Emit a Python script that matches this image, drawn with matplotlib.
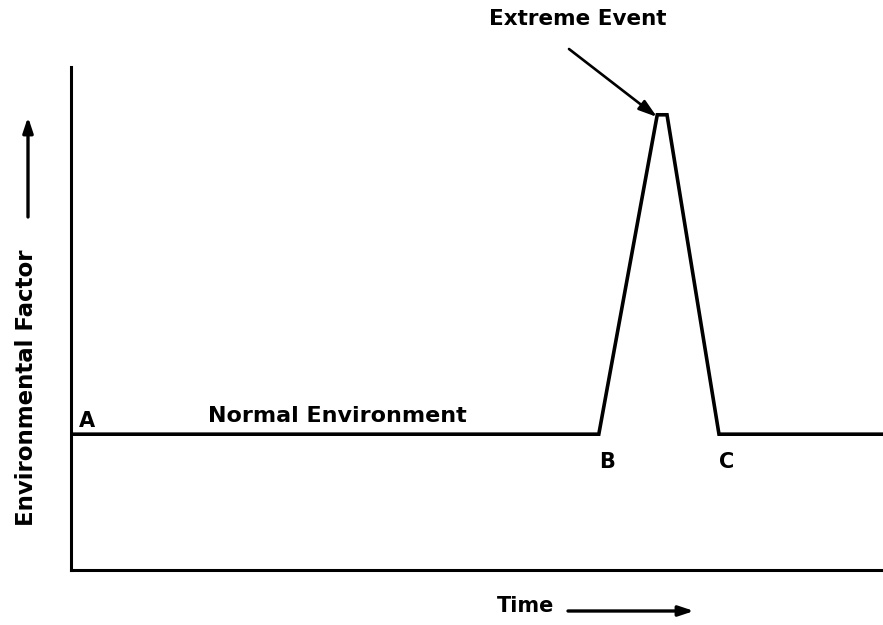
import matplotlib
matplotlib.use('Agg')
from matplotlib import pyplot as plt

# Environmental factor over time (arbitrary units)
time = [0, 65, 72.2, 73.4, 79.8, 100]
factor = [27, 27, 90.5, 90.5, 27, 27]

plt.rcParams['font.family'] = ['DejaVu Sans']

fig = plt.figure(figsize=(8.83, 6.25), dpi=100)
ax = fig.add_axes([71/883, 55/625, 812/883, 503/625])

ax.plot(time, factor, c='black', lw=2.6, solid_joinstyle='miter')
ax.set_xlim(0, 100)
ax.set_ylim(0, 100)

# Only left and bottom axis lines, no ticks
ax.spines['top'].set_visible(False)
ax.spines['right'].set_visible(False)
for side in ['left', 'bottom']:
    ax.spines[side].set_linewidth(2.2)
ax.set_xticks([])
ax.set_yticks([])

# Point labels
ax.text(1.0, 28.4, 'A', fontsize=15, fontweight='bold', ha='left', va='baseline')
ax.text(16.9, 29.4, 'Normal Environment', fontsize=16, fontweight='bold',
        ha='left', va='baseline')
ax.text(66.0, 23.5, 'B', fontsize=15, fontweight='bold', ha='center', va='top')
ax.text(80.8, 23.5, 'C', fontsize=15, fontweight='bold', ha='center', va='top')

# Extreme event label with arrow to the peak
fig.text(578, 606, 'Extreme Event', fontsize=15.5, fontweight='bold',
         ha='center', va='center', transform=None)
ax.annotate('', xy=(657, 508), xycoords='figure pixels',
            xytext=(569, 576), textcoords='figure pixels',
            arrowprops=dict(arrowstyle='-|>,head_length=1.1,head_width=0.35',
                            color='black', lw=1.9, shrinkA=0, shrinkB=0),
            annotation_clip=False)

# Axis titles with arrows
fig.text(526, 19, 'Time', fontsize=15, fontweight='bold',
         ha='center', va='center', transform=None)
ax.annotate('', xy=(694, 14), xycoords='figure pixels',
            xytext=(568, 14), textcoords='figure pixels',
            arrowprops=dict(arrowstyle='-|>,head_length=0.9,head_width=0.3',
                            color='black', lw=2.4, shrinkA=0, shrinkB=0),
            annotation_clip=False)

fig.text(27, 237, 'Environmental Factor', fontsize=16.5, fontweight='bold',
         rotation=90, ha='center', va='center', transform=None)
ax.annotate('', xy=(28, 508), xycoords='figure pixels',
            xytext=(28, 408), textcoords='figure pixels',
            arrowprops=dict(arrowstyle='-|>,head_length=0.9,head_width=0.3',
                            color='black', lw=2.4, shrinkA=0, shrinkB=0),
            annotation_clip=False)

fig.savefig('out.png', dpi=100)
